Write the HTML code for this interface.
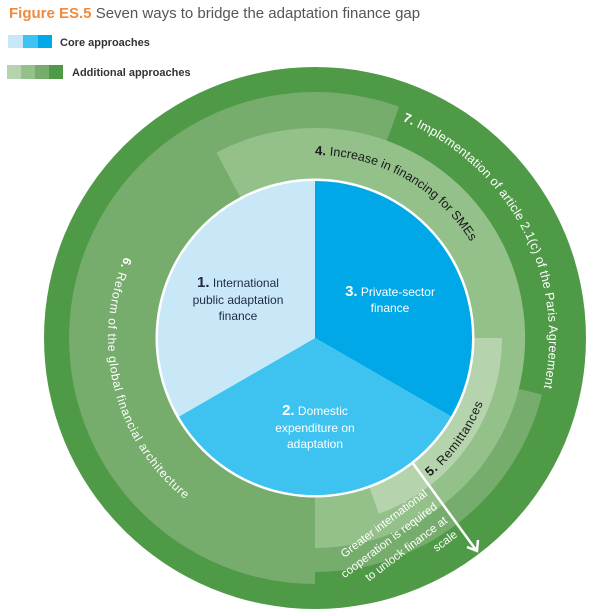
<!DOCTYPE html>
<html><head><meta charset="utf-8"><style>
html,body{margin:0;padding:0;background:#fff;}
svg{display:block;font-family:"Liberation Sans",sans-serif;}
</style></head><body>
<svg width="601" height="616" viewBox="0 0 601 616" xmlns="http://www.w3.org/2000/svg">
<text x="9" y="18" font-size="15"><tspan fill="#ef8a3e" font-weight="bold">Figure ES.5</tspan><tspan fill="#555"> Seven ways to bridge the adaptation finance gap</tspan></text>
<rect x="8" y="35" width="15" height="13" fill="#c8e8f8"/>
<rect x="23" y="35" width="15" height="13" fill="#3ec3f0"/>
<rect x="38" y="35" width="14" height="13" fill="#00a8e8"/>
<text x="60" y="46" font-size="11" font-weight="bold" fill="#333">Core approaches</text>
<rect x="7" y="65" width="14" height="14" fill="#b5d3ac"/>
<rect x="21" y="65" width="14" height="14" fill="#94c08a"/>
<rect x="35" y="65" width="14" height="14" fill="#77ad6c"/>
<rect x="49" y="65" width="14" height="14" fill="#4f9a47"/>
<text x="72" y="76" font-size="11" font-weight="bold" fill="#333">Additional approaches</text>

<circle cx="315" cy="338" r="271" fill="#4f9a47"/>
<path d="M315,338 L315,584 A246,246 0 1 1 399.1,106.8 Z" fill="#77ad6c"/>
<path d="M315,338 L542,394.6 A234,234 0 0 1 315,572 Z" fill="#77ad6c"/>
<path d="M315,338 L216.5,152.6 A210,210 0 1 1 315,548 Z" fill="#94c08a"/>
<path d="M315,338 L502,338 A187,187 0 0 1 379,513.8 Z" fill="#b5d3ac"/>
<circle cx="315" cy="338" r="159.5" fill="#fff"/>
<path d="M315,338 L315,181 A157,157 0 0 1 451,416.5 Z" fill="#00a8e8"/>
<path d="M315,338 L451,416.5 A157,157 0 0 1 179,416.5 Z" fill="#3ec3f0"/>
<path d="M315,338 L179,416.5 A157,157 0 0 1 315,181 Z" fill="#c8e8f8"/>

<defs>
<path id="p4" d="M315,155 A183,183 0 0 1 491.8,290.6"/>
<path id="p7" d="M395,118 A234,234 0 0 1 535,418"/>
<path id="p6" d="M127.4,250.4 A207,207 0 0 0 211.5,517.3"/>
<path id="p5" d="M423.4,481.8 A178,178 0 0 0 492.3,369.3"/>
</defs>
<text font-size="12.5" fill="#1a1a1a"><textPath href="#p4" textLength="186" lengthAdjust="spacing"><tspan font-weight="bold" font-size="13">4.</tspan> Increase in financing for SMEs</textPath></text>
<text font-size="12.5" fill="#fff"><textPath href="#p7" startOffset="8" textLength="328" lengthAdjust="spacing"><tspan font-weight="bold" font-size="13">7.</tspan> Implementation of article  2.1(c) of the Paris Agreement</textPath></text>
<text font-size="12" fill="#fff"><textPath href="#p6" startOffset="7" textLength="268" lengthAdjust="spacing"><tspan font-weight="bold">6.</tspan> Reform of the global financial architecture</textPath></text>
<text font-size="12.5" fill="#1a1a1a"><textPath href="#p5" startOffset="8" textLength="92" lengthAdjust="spacing"><tspan font-weight="bold" font-size="13">5.</tspan> Remittances</textPath></text>

<g font-size="11.5" fill="#fff" text-anchor="end">
<text transform="translate(428,495) rotate(-37)">Greater international</text>
<text transform="translate(438,508) rotate(-37)">cooperation is required</text>
<text transform="translate(448,522) rotate(-37)">to unlock finance at</text>
<text transform="translate(458,536) rotate(-37)">scale</text>
</g>
<line x1="412" y1="462" x2="476" y2="550" stroke="#fff" stroke-width="2.5"/>
<polyline points="467,547 477,551 478,540" fill="none" stroke="#fff" stroke-width="2.5"/>

<g font-size="12" text-anchor="middle" fill="#1f2a44">
<text x="238" y="287"><tspan font-size="15" font-weight="bold">1.</tspan> International</text>
<text x="238" y="304">public adaptation</text>
<text x="238" y="320">finance</text>
</g>
<g font-size="12" text-anchor="middle" fill="#fff">
<text x="390" y="296"><tspan font-size="15" font-weight="bold">3.</tspan> Private-sector</text>
<text x="390" y="312">finance</text>
<text x="315" y="415"><tspan font-size="15" font-weight="bold">2.</tspan> Domestic</text>
<text x="315" y="432">expenditure on</text>
<text x="315" y="448">adaptation</text>
</g>
</svg>
</body></html>
